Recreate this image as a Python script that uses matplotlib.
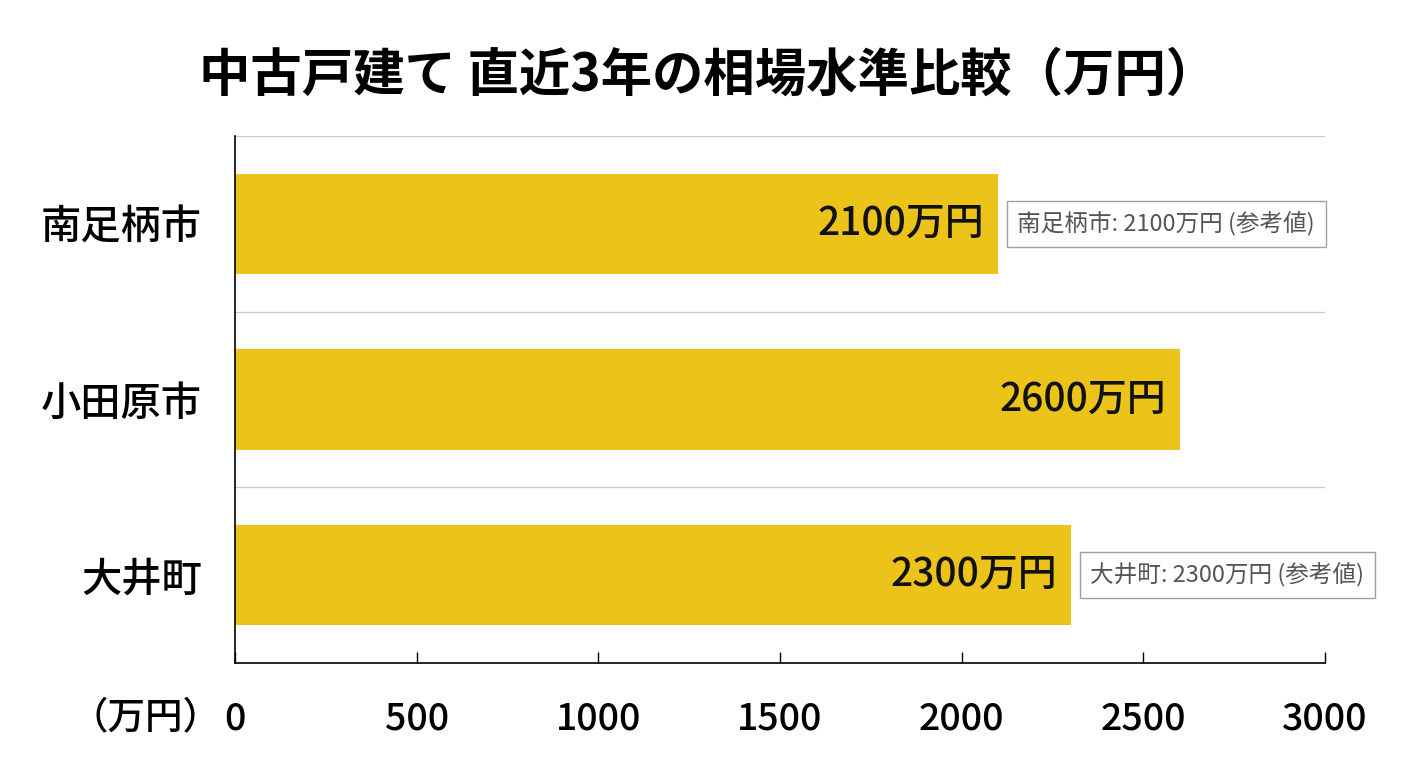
import matplotlib.pyplot as plt

plt.rcParams['font.family'] = ['Noto Sans CJK JP', 'DejaVu Sans']

# data
areas = ['南足柄市', '小田原市', '大井町']
prices = [2100, 2600, 2300]
ref_note = [True, False, True]   # boxes with (参考値)
xticks = [0, 500, 1000, 1500, 2000, 2500, 3000]

bar_color = '#ECC419'

fig = plt.figure(figsize=(14.08, 7.68), dpi=100)
ax = fig.add_axes([0.1669, 0.1367, 0.7742, 0.6862])

ypos = list(range(len(areas)))
ax.barh(ypos, prices, height=0.57, color=bar_color, zorder=2)

# value labels inside bars + note boxes
for y, v, note, name in zip(ypos, prices, ref_note, areas):
    ax.annotate(f'{v}万円', xy=(v, y), xytext=(-10, 0), textcoords='offset points',
                ha='right', va='center', fontsize=28, fontweight='medium', color='#111111', zorder=3)
    if note:
        ax.annotate(f'{name}: {v}万円 (参考値)', xy=(v, y), xytext=(14, 0),
                    textcoords='offset points', ha='left', va='center',
                    fontsize=17, color='#555555', zorder=3,
                    bbox=dict(boxstyle='square,pad=0.45', fc='white', ec='#a0a0a0', lw=1))

# separators between categories
for yy in [-0.5, 0.5, 1.5]:
    ax.axhline(yy, color='#cccccc', lw=1, zorder=1)

ax.set_ylim(2.5, -0.5)
ax.set_xlim(0, 3000)
ax.set_yticks(ypos)
ax.set_yticklabels(areas, fontsize=29, fontweight='medium')
ax.tick_params(axis='y', length=0, pad=24)
ax.set_xticks(xticks)
ax.set_xticklabels([str(t) for t in xticks], fontsize=27, fontweight='medium')
ax.tick_params(axis='x', direction='in', length=8, width=1, pad=26)

for s in ['top', 'right']:
    ax.spines[s].set_visible(False)
ax.spines['left'].set_linewidth(1.2)
ax.spines['bottom'].set_linewidth(1.2)

fig.text(0.103, 0.066, '（万円）', ha='center', va='center', fontsize=27, fontweight='medium')

fig.suptitle('中古戸建て 直近3年の相場水準比較（万円）', x=0.503, y=0.902, va='center',
             fontsize=37, fontweight='bold')

fig.savefig('out.png', dpi=100)
